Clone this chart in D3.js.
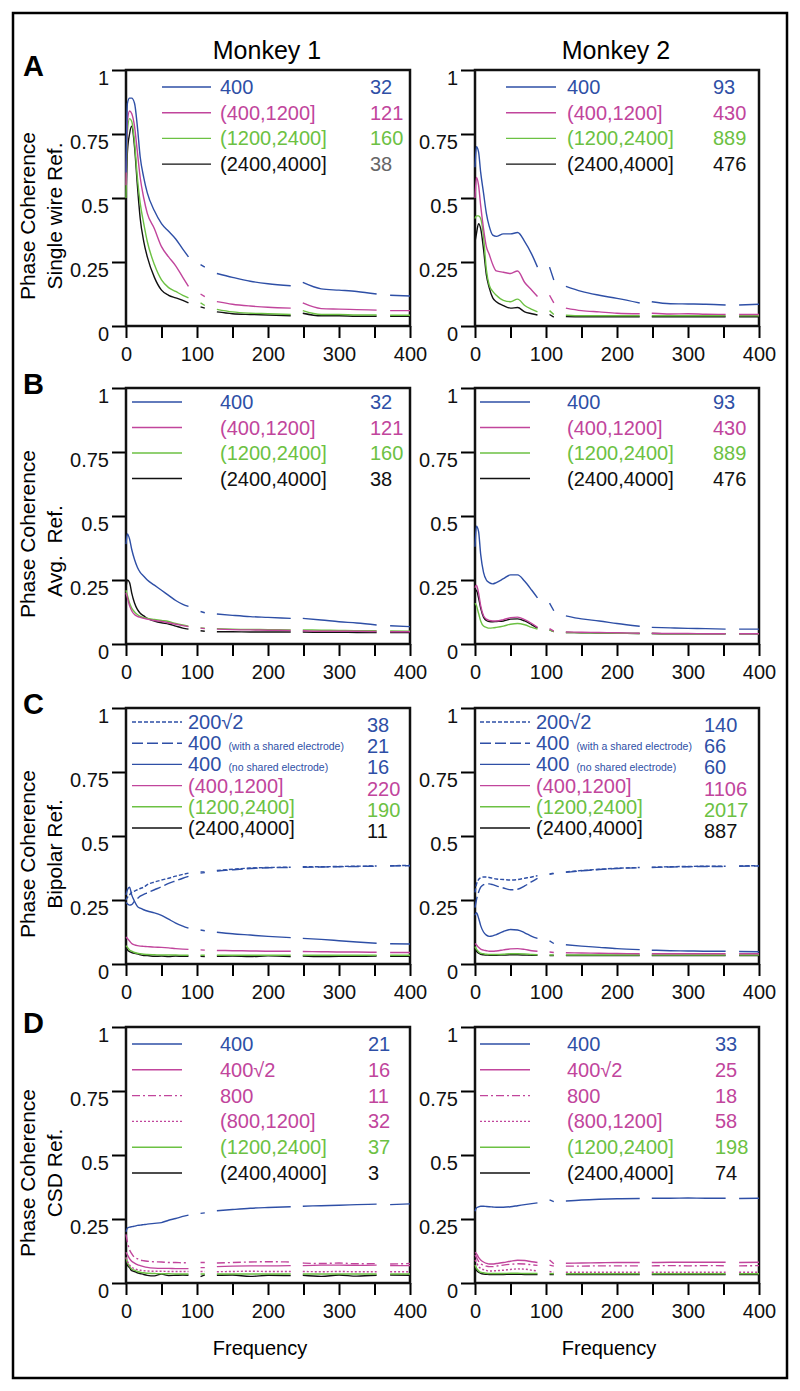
<!DOCTYPE html>
<html>
<head>
<meta charset="utf-8">
<script src="https://cdn.jsdelivr.net/npm/d3@7"></script>
<style>
  body { margin: 0; background: #fff; }
  svg text { font-family: "Liberation Sans", Arial, Helvetica, sans-serif; }
</style>
</head>
<body>
<svg id="fig" width="800" height="1391"></svg>
<script>
// frequency grid (Hz); points at 96, 120, 240, 362 are the gaps in every curve
var freq = [0,2,5,8,12,16,20,25,30,40,50,60,70,80,88,96,105,111,120,128,150,175,200,232,240,249,275,300,325,353,362,372,400];

var monkeys = ["Monkey 1", "Monkey 2"];
var rowLetters = ["A", "B", "C", "D"];
var refNames = ["Single wire Ref.", "Avg.  Ref.", "Bipolar Ref.", "CSD Ref."];

// legend labels / counts
var labelsAB = ["400", "(400,1200]", "(1200,2400]", "(2400,4000]"];
var labelsC = ["200\u221A2", "400", "400", "(400,1200]", "(1200,2400]", "(2400,4000]"];
var notesC = ["", "(with a shared electrode)", "(no shared electrode)", "", "", ""];
var labelsD = ["400", "400\u221A2", "800", "(800,1200]", "(1200,2400]", "(2400,4000]"];

var countsA1 = [32, 121, 160, 38],  countsA2 = [93, 430, 889, 476];
var countsB1 = [32, 121, 160, 38],  countsB2 = [93, 430, 889, 476];
var countsC1 = [38, 21, 16, 220, 190, 11], countsC2 = [140, 66, 60, 1106, 2017, 887];
var countsD1 = [21, 16, 11, 32, 37, 3],    countsD2 = [33, 25, 18, 58, 198, 74];

// series values, one row per legend entry, null = gap
var seriesA1 = [
  [0.6,0.87,0.89,0.89,0.87,0.78,0.66,0.58,0.52,0.45,0.40,0.37,0.34,0.30,0.27,null,0.24,0.23,null,0.205,0.19,0.175,0.165,0.157,null,0.17,0.145,0.14,0.135,0.125,null,0.12,0.117],
  [0.55,0.8,0.84,0.83,0.78,0.68,0.58,0.5,0.44,0.38,0.31,0.27,0.235,0.19,0.155,null,0.125,0.115,null,0.095,0.085,0.078,0.073,0.07,null,0.09,0.068,0.066,0.064,0.062,null,0.06,0.06],
  [0.5,0.76,0.81,0.8,0.72,0.58,0.48,0.4,0.33,0.24,0.18,0.15,0.135,0.12,0.11,null,0.09,0.08,null,0.065,0.055,0.05,0.048,0.045,null,0.06,0.045,0.045,0.043,0.043,null,0.042,0.042],
  [0.5,0.68,0.75,0.78,0.7,0.55,0.42,0.33,0.27,0.19,0.14,0.12,0.11,0.1,0.09,null,0.075,0.07,null,0.055,0.048,0.045,0.043,0.04,null,0.05,0.04,0.04,0.038,0.038,null,0.038,0.038]
];
var seriesA2 = [
  [0.62,0.7,0.68,0.6,0.52,0.44,0.39,0.355,0.35,0.36,0.36,0.365,0.33,0.28,0.23,null,0.23,0.18,null,0.155,0.135,0.12,0.108,0.09,null,0.095,0.087,0.086,0.085,0.082,null,0.082,0.085],
  [0.5,0.58,0.55,0.47,0.38,0.31,0.28,0.24,0.215,0.21,0.205,0.215,0.17,0.14,0.115,null,0.12,0.09,null,0.07,0.06,0.055,0.05,0.048,null,0.05,0.047,0.048,0.046,0.045,null,0.045,0.045],
  [0.42,0.43,0.43,0.42,0.35,0.22,0.16,0.135,0.12,0.1,0.095,0.105,0.08,0.065,0.055,null,0.06,0.045,null,0.042,0.04,0.04,0.04,0.04,null,0.04,0.04,0.04,0.04,0.04,null,0.04,0.04],
  [0.33,0.36,0.4,0.38,0.3,0.2,0.15,0.11,0.095,0.08,0.07,0.072,0.055,0.048,0.043,null,0.045,0.035,null,0.037,0.036,0.036,0.036,0.036,null,0.036,0.036,0.036,0.036,0.036,null,0.036,0.036]
];
var seriesB1 = [
  [0.39,0.43,0.41,0.37,0.33,0.3,0.28,0.265,0.25,0.23,0.21,0.19,0.17,0.155,0.147,null,0.127,0.122,null,0.117,0.112,0.107,0.104,0.1,null,0.1,0.094,0.087,0.082,0.074,null,0.071,0.068],
  [0.2,0.18,0.15,0.13,0.115,0.108,0.104,0.1,0.097,0.092,0.088,0.083,0.077,0.072,0.068,null,0.062,0.06,null,0.058,0.056,0.055,0.054,0.053,null,0.052,0.05,0.05,0.05,0.049,null,0.048,0.048],
  [0.21,0.19,0.16,0.14,0.125,0.115,0.108,0.103,0.1,0.096,0.092,0.088,0.08,0.074,0.07,null,0.063,0.062,null,0.06,0.058,0.057,0.056,0.055,null,0.055,0.054,0.053,0.052,0.052,null,0.051,0.05],
  [0.22,0.25,0.24,0.2,0.16,0.135,0.12,0.11,0.1,0.09,0.083,0.078,0.07,0.062,0.058,null,0.052,0.05,null,0.048,0.048,0.047,0.047,0.047,null,0.047,0.046,0.046,0.045,0.045,null,0.045,0.045]
];
var seriesB2 = [
  [0.38,0.46,0.44,0.35,0.28,0.25,0.24,0.235,0.24,0.255,0.27,0.27,0.245,0.21,0.18,null,0.16,0.13,null,0.11,0.098,0.09,0.08,0.069,null,0.065,0.063,0.061,0.06,0.058,null,0.058,0.058],
  [0.22,0.23,0.2,0.15,0.11,0.097,0.092,0.09,0.09,0.095,0.103,0.105,0.095,0.08,0.065,null,0.06,0.05,null,0.047,0.046,0.045,0.044,0.042,null,0.042,0.041,0.041,0.04,0.04,null,0.04,0.04],
  [0.16,0.15,0.12,0.09,0.07,0.065,0.062,0.063,0.065,0.07,0.077,0.08,0.075,0.065,0.058,null,0.055,0.048,null,0.045,0.044,0.043,0.042,0.041,null,0.041,0.04,0.04,0.04,0.04,null,0.04,0.04],
  [0.2,0.21,0.18,0.14,0.105,0.092,0.088,0.087,0.088,0.09,0.097,0.098,0.09,0.075,0.062,null,0.055,0.048,null,0.045,0.044,0.043,0.042,0.041,null,0.041,0.04,0.04,0.04,0.04,null,0.04,0.04]
];
var seriesC1 = [
  [0.25,0.26,0.27,0.28,0.285,0.29,0.295,0.3,0.31,0.32,0.328,0.335,0.343,0.35,0.355,null,0.36,0.36,null,0.365,0.37,0.375,0.377,0.378,null,0.38,0.38,0.381,0.382,0.383,null,0.384,0.385],
  [0.24,0.235,0.23,0.232,0.245,0.255,0.265,0.272,0.278,0.29,0.302,0.315,0.325,0.335,0.342,null,0.355,0.357,null,0.363,0.368,0.373,0.376,0.377,null,0.378,0.379,0.38,0.381,0.382,null,0.383,0.384],
  [0.27,0.29,0.3,0.27,0.245,0.225,0.218,0.212,0.207,0.2,0.19,0.175,0.16,0.148,0.14,null,0.133,0.13,null,0.124,0.118,0.113,0.108,0.103,null,0.1,0.096,0.091,0.086,0.081,null,0.079,0.078],
  [0.105,0.1,0.09,0.08,0.075,0.072,0.07,0.069,0.068,0.066,0.065,0.063,0.06,0.058,0.057,null,0.055,0.054,null,0.053,0.052,0.051,0.05,0.05,null,0.049,0.048,0.047,0.047,0.046,null,0.045,0.045],
  [0.072,0.065,0.055,0.05,0.045,0.042,0.04,0.038,0.037,0.036,0.035,0.035,0.035,0.034,0.034,null,0.034,0.034,null,0.034,0.034,0.034,0.034,0.034,null,0.034,0.034,0.034,0.034,0.034,null,0.034,0.034],
  [0.068,0.055,0.048,0.045,0.042,0.04,0.036,0.033,0.033,0.03,0.031,0.029,0.031,0.03,0.03,null,0.03,0.029,null,0.03,0.031,0.029,0.032,0.029,null,0.031,0.029,0.03,0.03,0.031,null,0.03,0.03]
];
var seriesC2 = [
  [0.28,0.31,0.33,0.337,0.34,0.34,0.338,0.335,0.332,0.33,0.328,0.33,0.335,0.34,0.345,null,0.352,0.355,null,0.36,0.365,0.37,0.374,0.377,null,0.378,0.38,0.381,0.382,0.382,null,0.383,0.384],
  [0.22,0.25,0.28,0.3,0.31,0.313,0.313,0.31,0.305,0.297,0.29,0.292,0.305,0.322,0.335,null,0.35,0.353,null,0.358,0.364,0.369,0.373,0.376,null,0.377,0.379,0.38,0.381,0.381,null,0.382,0.383],
  [0.19,0.2,0.18,0.15,0.125,0.113,0.108,0.11,0.115,0.127,0.135,0.133,0.122,0.108,0.1,null,0.09,0.08,null,0.075,0.07,0.065,0.06,0.056,null,0.054,0.052,0.051,0.05,0.05,null,0.049,0.048],
  [0.08,0.075,0.065,0.058,0.054,0.052,0.05,0.05,0.051,0.055,0.059,0.06,0.057,0.052,0.05,null,0.047,0.045,null,0.044,0.043,0.042,0.041,0.04,null,0.04,0.04,0.04,0.04,0.04,null,0.04,0.04],
  [0.068,0.058,0.048,0.042,0.04,0.038,0.037,0.037,0.037,0.038,0.04,0.04,0.039,0.037,0.036,null,0.035,0.035,null,0.035,0.035,0.035,0.035,0.035,null,0.035,0.035,0.035,0.035,0.035,null,0.035,0.035],
  [0.062,0.05,0.042,0.038,0.036,0.035,0.034,0.034,0.034,0.035,0.036,0.036,0.035,0.034,0.034,null,0.033,0.033,null,0.033,0.033,0.033,0.033,0.033,null,0.033,0.033,0.033,0.033,0.033,null,0.033,0.033]
];
var seriesD1 = [
  [0.2,0.215,0.218,0.22,0.222,0.225,0.226,0.228,0.23,0.233,0.236,0.245,0.252,0.26,0.265,null,0.272,0.274,null,0.282,0.287,0.292,0.295,0.298,null,0.3,0.302,0.304,0.306,0.308,null,0.306,0.309],
  [0.12,0.11,0.095,0.085,0.078,0.072,0.068,0.064,0.061,0.058,0.057,0.057,0.056,0.056,0.056,null,0.06,0.06,null,0.064,0.066,0.067,0.067,0.068,null,0.068,0.07,0.07,0.069,0.07,null,0.068,0.068],
  [0.19,0.16,0.13,0.115,0.1,0.095,0.09,0.087,0.085,0.083,0.082,0.08,0.08,0.079,0.079,null,0.08,0.08,null,0.078,0.08,0.082,0.083,0.082,null,0.078,0.076,0.078,0.075,0.076,null,0.074,0.076],
  [0.1,0.085,0.07,0.062,0.056,0.052,0.05,0.048,0.047,0.046,0.046,0.045,0.045,0.045,0.045,null,0.045,0.045,null,0.044,0.045,0.046,0.045,0.045,null,0.045,0.044,0.045,0.044,0.044,null,0.044,0.044],
  [0.1,0.08,0.065,0.055,0.05,0.045,0.042,0.04,0.038,0.037,0.036,0.036,0.035,0.035,0.035,null,0.035,0.035,null,0.035,0.035,0.035,0.035,0.035,null,0.035,0.035,0.035,0.035,0.035,null,0.035,0.035],
  [0.09,0.07,0.06,0.048,0.045,0.04,0.037,0.033,0.03,0.028,0.035,0.029,0.03,0.031,0.03,null,0.025,0.032,null,0.03,0.031,0.026,0.03,0.029,null,0.03,0.026,0.031,0.027,0.03,null,0.031,0.03]
];
var seriesD2 = [
  [0.28,0.293,0.297,0.3,0.3,0.299,0.298,0.297,0.296,0.296,0.298,0.302,0.306,0.31,0.313,null,0.325,0.318,null,0.32,0.324,0.327,0.329,0.33,null,0.331,0.331,0.332,0.331,0.331,null,0.33,0.331],
  [0.12,0.115,0.1,0.09,0.082,0.077,0.074,0.074,0.076,0.08,0.085,0.089,0.088,0.083,0.08,null,0.09,0.075,null,0.077,0.078,0.079,0.08,0.08,null,0.08,0.081,0.081,0.081,0.081,null,0.08,0.081],
  [0.11,0.1,0.085,0.075,0.07,0.066,0.064,0.064,0.066,0.07,0.073,0.075,0.074,0.071,0.069,null,0.07,0.066,null,0.066,0.066,0.067,0.067,0.067,null,0.067,0.068,0.067,0.068,0.067,null,0.067,0.068],
  [0.09,0.08,0.065,0.057,0.052,0.049,0.047,0.047,0.048,0.05,0.053,0.055,0.054,0.05,0.047,null,0.045,0.042,null,0.042,0.042,0.042,0.042,0.042,null,0.042,0.042,0.042,0.042,0.042,null,0.042,0.042],
  [0.07,0.058,0.048,0.042,0.04,0.038,0.037,0.037,0.037,0.037,0.038,0.038,0.037,0.037,0.037,null,0.037,0.036,null,0.036,0.036,0.036,0.036,0.036,null,0.036,0.036,0.036,0.036,0.036,null,0.036,0.036],
  [0.065,0.05,0.042,0.038,0.035,0.034,0.033,0.033,0.033,0.033,0.034,0.034,0.033,0.033,0.033,null,0.033,0.033,null,0.033,0.033,0.033,0.033,0.033,null,0.033,0.033,0.033,0.033,0.033,null,0.033,0.033]
];

var BLUE = "#2e4fa6", MAG = "#c1459c", GRN = "#6cc143", BLK = "#111";
var colorsAB = [BLUE, MAG, GRN, BLK];
var colorsC = [BLUE, BLUE, BLUE, MAG, GRN, BLK];
var colorsD = [BLUE, MAG, MAG, MAG, GRN, BLK];
var dashC = ["4,2", "11,4", null, null, null, null];
var dashD = [null, null, "8,3,2,3", "2,2", null, null];

// layout
var colX = [126, 475], plotW = 284;
var rowY = [70, 388, 708, 1027], plotH = 256;

var rows = [
  {labels: labelsAB, colors: colorsAB, dash: [], data: [seriesA1, seriesA2], counts: [countsA1, countsA2],
   countColors: [[BLUE, MAG, GRN, "#666"], colorsAB],
   leg: {top: 17, step: 25.7, line: [[36,85],[31,81]], text: [94,92], count: [244,238], cdy: 0}, refDy: 18},
  {labels: labelsAB, colors: colorsAB, dash: [], data: [seriesB1, seriesB2], counts: [countsB1, countsB2],
   countColors: [colorsAB, colorsAB],
   leg: {top: 14, step: 25.5, line: [[6,56],[5,55]], text: [94,92], count: [244,238], cdy: 0}, refDy: 35},
  {labels: labelsC, notes: notesC, colors: colorsC, dash: dashC, data: [seriesC1, seriesC2], counts: [countsC1, countsC2],
   countColors: [colorsC, colorsC],
   leg: {top: 14, step: 21.2, line: [[6,56],[5,55]], text: [62,61], count: [241,229], cdy: 3}, refDy: 18},
  {labels: labelsD, colors: colorsD, dash: dashD, data: [seriesD1, seriesD2], counts: [countsD1, countsD2],
   countColors: [colorsD, colorsD],
   leg: {top: 17, step: 25.8, line: [[6,56],[5,55]], text: [94,92], count: [242,240], cdy: 0}, refDy: 18}
];

var svg = d3.select("#fig");

// outer frame
svg.append("rect")
  .attr("x", 13).attr("y", 13).attr("width", 774).attr("height", 1365)
  .attr("fill", "none").attr("stroke", "#000").attr("stroke-width", 2.5);

// column titles
monkeys.forEach(function(m, i){
  svg.append("text")
    .attr("x", colX[i] + plotW / 2 - 1).attr("y", 59)
    .attr("text-anchor", "middle").attr("font-size", 25)
    .text(m);
});

var fmtY = function(d){ return String(d); };

rows.forEach(function(row, r){
  var top = rowY[r];

  // panel letter
  svg.append("text")
    .attr("x", 23).attr("y", top + 6)
    .attr("font-size", 29).attr("font-weight", "bold")
    .text(rowLetters[r]);

  // y labels
  var cy = top + plotH / 2;
  svg.append("text")
    .attr("transform", "translate(35," + (cy + 18) + ") rotate(-90)")
    .attr("text-anchor", "middle").attr("font-size", 21)
    .text("Phase Coherence");
  svg.append("text")
    .attr("transform", "translate(62," + (cy + row.refDy) + ") rotate(-90)")
    .attr("text-anchor", "middle").attr("font-size", 21)
    .style("white-space", "pre")
    .text(refNames[r]);

  [0, 1].forEach(function(m){
    var left = colX[m];
    var x = d3.scaleLinear().domain([0, 400]).range([left, left + plotW]);
    var y = d3.scaleLinear().domain([0, 1]).range([top + plotH, top]);
    var g = svg.append("g");

    // y axis
    var ya = g.append("g")
      .attr("transform", "translate(" + left + ",0)")
      .call(d3.axisLeft(y).tickValues([0, 0.25, 0.5, 0.75, 1]).tickSize(14).tickPadding(3).tickFormat(fmtY));
    ya.select(".domain").remove();
    ya.selectAll(".tick line").attr("stroke-width", 2);
    ya.selectAll(".tick text").attr("font-size", 20).attr("dy", "0.72em")
      .attr("font-family", "Liberation Sans, Arial, sans-serif").attr("fill", "#111");

    // x axis
    var xa = g.append("g")
      .attr("transform", "translate(0," + (top + plotH) + ")")
      .call(d3.axisBottom(x).tickValues(d3.range(0, 401, 50)).tickSize(12).tickPadding(9)
        .tickFormat(function(d){ return d % 100 === 0 ? d : ""; }));
    xa.select(".domain").remove();
    xa.selectAll(".tick line").attr("stroke-width", 2);
    xa.selectAll(".tick text").attr("font-size", 20)
      .attr("font-family", "Liberation Sans, Arial, sans-serif").attr("fill", "#111");

    // frame
    g.append("rect")
      .attr("x", left).attr("y", top).attr("width", plotW).attr("height", plotH)
      .attr("fill", "none").attr("stroke", "#111").attr("stroke-width", 2.5);

    // curves (black first so the coloured ones sit on top)
    var line = d3.line()
      .defined(function(d){ return d[1] != null; })
      .x(function(d){ return x(d[0]); })
      .y(function(d){ return y(d[1]); })
      .curve(d3.curveMonotoneX);

    var series = row.data[m];
    var order = d3.range(series.length).reverse();
    order.forEach(function(k){
      var pts = freq.map(function(f, i){ return [f, series[k][i]]; });
      g.append("path")
        .attr("d", line(pts))
        .attr("fill", "none")
        .attr("stroke", row.colors[k])
        .attr("stroke-width", 1.4)
        .attr("stroke-dasharray", row.dash[k] || null);
    });

    // legend
    var L = row.leg;
    row.labels.forEach(function(lab, k){
      var ty = top + L.top + k * L.step;
      g.append("line")
        .attr("x1", left + L.line[m][0]).attr("x2", left + L.line[m][1])
        .attr("y1", ty).attr("y2", ty)
        .attr("stroke", row.colors[k]).attr("stroke-width", 1.4)
        .attr("stroke-dasharray", row.dash[k] || null);
      var t = g.append("text")
        .attr("x", left + L.text[m]).attr("y", ty + 7)
        .attr("font-size", 20).attr("fill", row.colors[k])
        .text(lab);
      if (row.notes && row.notes[k]) {
        t.append("tspan").attr("dx", 7).attr("font-size", 10.5).text(row.notes[k]);
      }
      g.append("text")
        .attr("x", left + L.count[m]).attr("y", ty + 7 + L.cdy)
        .attr("font-size", 20).attr("fill", row.countColors[m][k])
        .text(row.counts[m][k]);
    });
  });
});

// x-axis titles
[0, 1].forEach(function(m){
  svg.append("text")
    .attr("x", colX[m] + plotW / 2 - 8).attr("y", 1355)
    .attr("text-anchor", "middle").attr("font-size", 20)
    .text("Frequency");
});
</script>
</body>
</html>
